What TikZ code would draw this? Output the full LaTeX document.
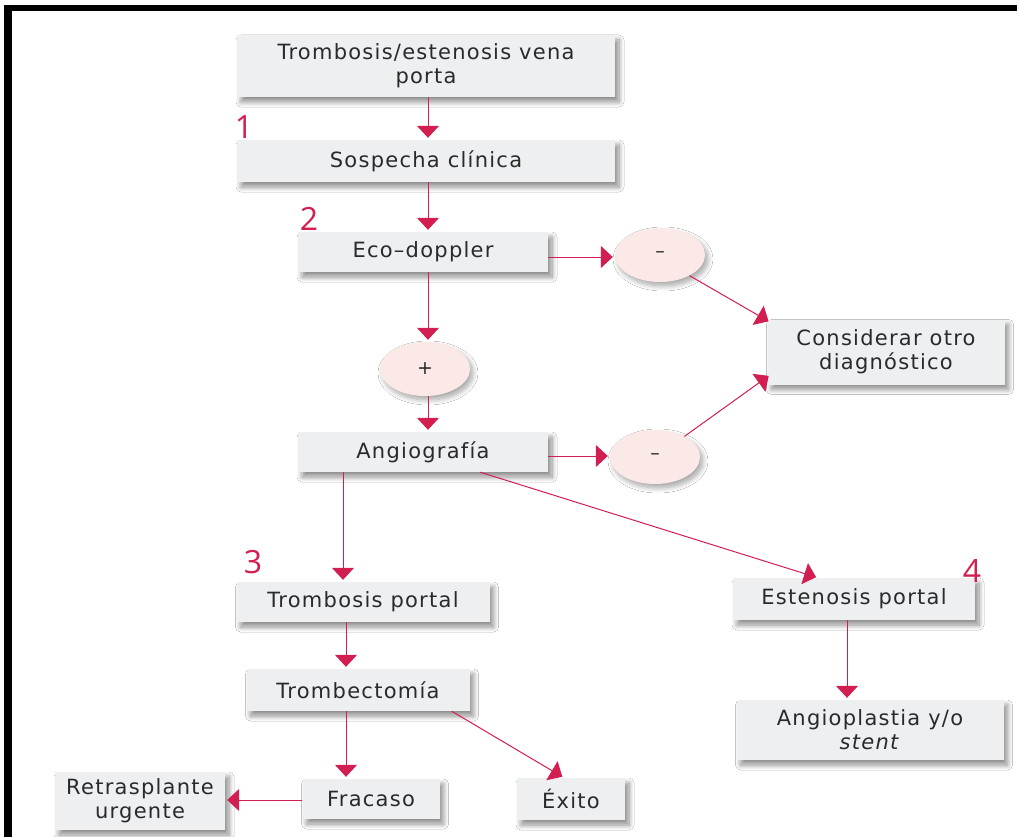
\documentclass[tikz,border=0pt]{standalone}
\usepackage{fontspec}
\setmainfont{DejaVu Sans}[LetterSpace=6]
\newfontfamily\numfont{Open Sans}
\usetikzlibrary{arrows.meta,shapes.geometric,shadows.blur,calc}
\definecolor{crim}{HTML}{D21E50}
\definecolor{boxfill}{HTML}{EEEFF1}
\definecolor{ovalfill}{HTML}{FBE9E8}
\definecolor{txt}{HTML}{2A2A2A}
\tikzset{
  box/.style={fill=boxfill, text=txt, font=\fontsize{21}{24}\selectfont,
    align=center, inner sep=0pt,
    blur shadow={shadow xshift=4pt, shadow yshift=-5pt, shadow blur steps=10, shadow blur radius=5pt, shadow opacity=45}},
  oval/.style={ellipse, fill=ovalfill, text=txt, font=\fontsize{19}{21}\selectfont,
    inner sep=0pt, minimum width=90pt, minimum height=54pt,
    blur shadow={shadow xshift=3pt, shadow yshift=-4pt, shadow blur steps=10, shadow blur radius=5pt, shadow opacity=35}},
  num/.style={text=crim, font=\numfont\fontsize{32}{32}\selectfont, inner sep=0pt},
  link/.style={draw=crim, line width=1pt, -{Triangle[width=22pt,length=12pt]}, shorten >=2pt},
  frame/.style={fill=black}
}
\begin{document}
\begin{tikzpicture}[x=1pt,y=-1pt]
\useasboundingbox (0,0) rectangle (1017,837);
\fill[white] (0,0) rectangle (1017,837);
% heavy frame along the top and left edges
\fill[frame] (4,5) rectangle (1017,11);
\fill[frame] (4,5) rectangle (12,837);

% boxes
\node[box, minimum width=378pt, minimum height=62pt] (top) at (426,66) {Trombosis/estenosis vena\\porta};
\node[box, minimum width=378pt, minimum height=42pt] (sosp) at (426,161) {Sospecha clínica};
\node[box, minimum width=250pt, minimum height=40pt] (eco) at (423,252) {Eco–doppler};
\node[oval] (neg1) at (660,255) {–};
\node[box, minimum width=237pt, minimum height=65pt] (cons) at (886,352) {Considerar otro\\diagnóstico};
\node[oval] (pos) at (425,369) {+};
\node[box, minimum width=250pt, minimum height=40pt] (angio) at (423,452) {Angiografía};
\node[oval] (neg2) at (655,457) {–};
\node[box, minimum width=253pt, minimum height=40pt] (tp) at (363,602) {Trombosis portal};
\node[box, minimum width=242pt, minimum height=42pt] (ep) at (854,599) {Estenosis portal};
\node[box, minimum width=267pt, minimum height=60pt] (angp) at (870,730) {Angioplastia y/o\\\textit{stent}};
\node[box, minimum width=223pt, minimum height=42pt] (trom) at (358,690) {Trombectomía};
\node[box, minimum width=137pt, minimum height=40pt] (frac) at (371,799) {Fracaso};
\node[box, minimum width=108pt, minimum height=42pt] (exito) at (571,799) {Éxito};
\node[box, minimum width=170pt, minimum height=58pt] (retr) at (140,801) {Retrasplante\\urgente};

% step numbers
\node[num] (n1) at (244,127) {1};
\node[num] (n2) at (309,219) {2};
\node[num] (n3) at (253,562) {3};
\node[num] (n4) at (972,571) {4};

% connectors
\draw[link] (top.south -| 428,0) -- (sosp.north -| 428,0);
\draw[link] (sosp.south -| 428,0) -- (eco.north -| 428,0);
\draw[link] (eco.south -| 428,0) -- (pos.north -| 428,0);
\draw[link] (pos.south -| 428,0) -- (angio.north -| 428,0);
\draw[link] (eco.east |- 0,257) -- (neg1.west |- 0,257);
\draw[link] (angio.east |- 0,456) -- (neg2.west |- 0,456);
\draw[link] (neg1.-35) -- ([shift={(3pt,-3pt)}]cons.north west);
\draw[link] (neg2.35) -- ([shift={(3pt,10pt)}]cons.south west);
\draw[link] (angio.south -| 343,0) -- (tp.north -| 343,0);
\draw[link] ([xshift=-68pt]angio.south east) -- ([xshift=-36pt]ep.north);
\draw[link] (ep.south -| 847,0) -- (angp.north -| 847,0);
\draw[link] (tp.south -| 346,0) -- (trom.north -| 346,0);
\draw[link] (trom.south -| 346,0) -- (frac.north -| 346,0);
\draw[link] (frac.west |- 0,800) -- (retr.east |- 0,800);
\draw[link] ([xshift=-18pt]trom.south east) -- ([xshift=-7pt]exito.north);
\end{tikzpicture}
\end{document}
